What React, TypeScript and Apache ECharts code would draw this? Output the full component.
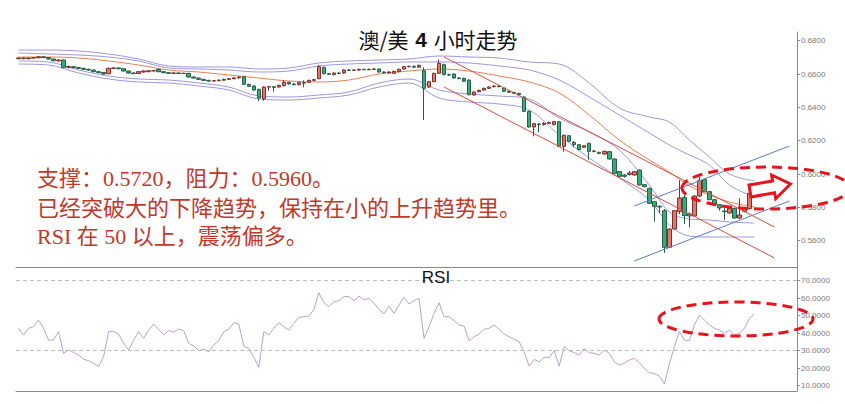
import React, { useEffect, useRef } from "react";
import * as echarts from "echarts";

// ---------- data ----------
const SLOTS = 156; // candle slots across the plot (last ones empty)
const categories: string[] = Array.from({ length: SLOTS }, (_, i) => String(i + 1));

// [open, close, low, high]
const ohlc: number[][] = [
  [0.6692, 0.6696, 0.6688, 0.67], [0.6696, 0.6692, 0.6688, 0.67], [0.6692, 0.6696, 0.6688, 0.67],
  [0.6696, 0.6698, 0.6692, 0.6702], [0.6698, 0.6703, 0.6694, 0.6706], [0.6703, 0.6699, 0.6695, 0.6706],
  [0.6699, 0.669, 0.6686, 0.6702], [0.669, 0.668, 0.6676, 0.6692], [0.6679, 0.6684, 0.6674, 0.6688],
  [0.6684, 0.664, 0.6634, 0.6688], [0.664, 0.6644, 0.6634, 0.665], [0.6644, 0.6639, 0.6634, 0.6648],
  [0.6639, 0.6634, 0.663, 0.6642], [0.6634, 0.6628, 0.6624, 0.6637], [0.6628, 0.6624, 0.662, 0.6632],
  [0.6624, 0.6614, 0.661, 0.6627], [0.6614, 0.6609, 0.6604, 0.6618], [0.6609, 0.66, 0.6596, 0.6612],
  [0.6602, 0.6634, 0.6598, 0.6638], [0.6634, 0.6636, 0.663, 0.664], [0.6636, 0.6632, 0.6628, 0.664],
  [0.6632, 0.6618, 0.6614, 0.6634], [0.6618, 0.6606, 0.6602, 0.662], [0.6606, 0.6603, 0.6598, 0.661],
  [0.6603, 0.6614, 0.66, 0.6617], [0.6612, 0.6618, 0.6608, 0.6622], [0.6614, 0.6619, 0.661, 0.6622],
  [0.6619, 0.662, 0.6614, 0.6624], [0.6628, 0.6614, 0.661, 0.6632], [0.6614, 0.6608, 0.6604, 0.6616],
  [0.6608, 0.6604, 0.66, 0.661], [0.6604, 0.6606, 0.66, 0.661], [0.6606, 0.6603, 0.66, 0.661],
  [0.6603, 0.6604, 0.66, 0.6608], [0.6604, 0.6582, 0.6578, 0.6606], [0.6582, 0.6576, 0.6572, 0.6585],
  [0.6576, 0.6568, 0.6564, 0.6578], [0.6568, 0.6562, 0.6558, 0.6571], [0.6562, 0.6558, 0.6554, 0.6565],
  [0.6558, 0.656, 0.6554, 0.6564], [0.656, 0.6563, 0.6556, 0.6567], [0.6563, 0.6568, 0.656, 0.6572],
  [0.6568, 0.6572, 0.6564, 0.6576], [0.6572, 0.6577, 0.6568, 0.658], [0.6577, 0.6582, 0.6572, 0.6586],
  [0.6584, 0.6538, 0.6534, 0.6588], [0.6538, 0.6526, 0.6522, 0.6541], [0.6528, 0.6504, 0.65, 0.6532],
  [0.6508, 0.6456, 0.6438, 0.6512], [0.6452, 0.6522, 0.644, 0.6526], [0.6522, 0.6524, 0.65, 0.6528],
  [0.6524, 0.652, 0.6494, 0.6528], [0.6522, 0.6532, 0.6518, 0.6536], [0.653, 0.655, 0.6526, 0.6562],
  [0.655, 0.654, 0.6536, 0.6554], [0.654, 0.6536, 0.6532, 0.6544], [0.6536, 0.6548, 0.6532, 0.6552],
  [0.6548, 0.6545, 0.652, 0.6562], [0.655, 0.6562, 0.6546, 0.6566], [0.6562, 0.6566, 0.6558, 0.657],
  [0.6572, 0.6644, 0.6568, 0.6654], [0.664, 0.6602, 0.6598, 0.6644], [0.6602, 0.6598, 0.6594, 0.6606],
  [0.6596, 0.6606, 0.6592, 0.661], [0.6606, 0.6604, 0.6598, 0.661], [0.6606, 0.6624, 0.6602, 0.6628],
  [0.6624, 0.6622, 0.6618, 0.663], [0.6622, 0.6624, 0.6618, 0.6628], [0.6624, 0.6628, 0.662, 0.6632],
  [0.6628, 0.6626, 0.6622, 0.6632], [0.6626, 0.6628, 0.6622, 0.6632], [0.6628, 0.663, 0.6624, 0.6634],
  [0.663, 0.6612, 0.6608, 0.6633], [0.6612, 0.6608, 0.6604, 0.6616], [0.6606, 0.6612, 0.6602, 0.6616],
  [0.6604, 0.6616, 0.66, 0.662], [0.6614, 0.6628, 0.661, 0.6632], [0.663, 0.6644, 0.6626, 0.6648],
  [0.6644, 0.6646, 0.664, 0.665], [0.6646, 0.6641, 0.6636, 0.665], [0.6641, 0.6652, 0.6636, 0.6656],
  [0.662, 0.6514, 0.6324, 0.664], [0.6522, 0.6554, 0.6516, 0.6558], [0.6554, 0.6604, 0.655, 0.6608],
  [0.6604, 0.6664, 0.66, 0.6686], [0.6656, 0.6596, 0.6592, 0.6662], [0.6596, 0.6594, 0.6588, 0.6602],
  [0.66, 0.6576, 0.6572, 0.6604], [0.6576, 0.6574, 0.6568, 0.658], [0.6574, 0.6556, 0.6552, 0.6578],
  [0.6564, 0.6476, 0.6472, 0.6568], [0.6474, 0.6492, 0.647, 0.6496], [0.6494, 0.6502, 0.649, 0.6506],
  [0.6504, 0.6514, 0.65, 0.6518], [0.6514, 0.6522, 0.651, 0.6526], [0.6524, 0.6528, 0.652, 0.6532],
  [0.6528, 0.6524, 0.652, 0.6532], [0.6516, 0.6496, 0.6492, 0.652], [0.6496, 0.649, 0.6486, 0.65],
  [0.649, 0.6484, 0.648, 0.6494], [0.6484, 0.6476, 0.6472, 0.6488], [0.6462, 0.6376, 0.6372, 0.6466],
  [0.6376, 0.6282, 0.6278, 0.638], [0.6282, 0.6302, 0.6226, 0.6306], [0.63, 0.6296, 0.625, 0.6306],
  [0.6298, 0.6304, 0.629, 0.6312], [0.6304, 0.6308, 0.63, 0.6316], [0.6296, 0.6314, 0.6292, 0.6318],
  [0.6314, 0.6166, 0.6162, 0.6318], [0.6166, 0.6232, 0.6134, 0.6236], [0.623, 0.6196, 0.6192, 0.6234],
  [0.619, 0.6176, 0.616, 0.6198], [0.6176, 0.6146, 0.6142, 0.618], [0.616, 0.617, 0.6156, 0.6174],
  [0.6184, 0.6136, 0.6086, 0.6188], [0.6136, 0.6138, 0.613, 0.6144], [0.613, 0.6124, 0.6118, 0.6134],
  [0.612, 0.6136, 0.6114, 0.614], [0.6134, 0.609, 0.6086, 0.6138], [0.609, 0.6004, 0.6, 0.6094],
  [0.6014, 0.5986, 0.5982, 0.6018], [0.5994, 0.5986, 0.5978, 0.6], [0.5998, 0.6006, 0.599, 0.6018],
  [0.5994, 0.6014, 0.599, 0.6018], [0.6024, 0.5934, 0.593, 0.6028], [0.5936, 0.5924, 0.592, 0.594],
  [0.5914, 0.5824, 0.582, 0.5918], [0.5834, 0.5806, 0.5714, 0.5838], [0.5806, 0.5802, 0.5766, 0.5812],
  [0.578, 0.556, 0.5526, 0.579], [0.556, 0.567, 0.5556, 0.5674], [0.567, 0.578, 0.5666, 0.5784],
  [0.5774, 0.5856, 0.576, 0.5962], [0.586, 0.575, 0.57, 0.5872], [0.576, 0.5748, 0.568, 0.577],
  [0.5748, 0.5868, 0.5744, 0.5872], [0.5868, 0.596, 0.5862, 0.5982], [0.5966, 0.5894, 0.589, 0.597],
  [0.5894, 0.5846, 0.5842, 0.5898], [0.5846, 0.5816, 0.5812, 0.585], [0.5816, 0.5796, 0.578, 0.582],
  [0.5778, 0.5774, 0.5724, 0.58], [0.5766, 0.5794, 0.5762, 0.5798], [0.5794, 0.5736, 0.5732, 0.5798],
  [0.5736, 0.5754, 0.573, 0.5854], [0.5776, 0.5792, 0.577, 0.5796], [0.5792, 0.5884, 0.5788, 0.5888],
  [0.589, 0.5894, 0.5886, 0.5898],
];

const rsi: number[] = [
  42.8, 39.0, 42.8, 43.7, 47.5, 42.8, 36.1, 36.1, 40.9, 28.5,
  30.4, 28.9, 27.5, 25.1, 24.3, 22.8, 20.9, 26.6, 40.9, 40.9,
  39.5, 34.2, 30.4, 36.1, 40.9, 37.1, 41.8, 45.2, 42.2, 39.0,
  41.4, 40.7, 42.4, 41.4, 34.2, 32.7, 30.0, 30.8, 29.4, 33.2,
  35.7, 40.9, 42.2, 46.0, 45.2, 32.7, 31.3, 26.2, 20.5, 40.9,
  39.0, 42.8, 46.0, 43.7, 41.8, 45.6, 49.1, 49.4, 49.8, 53.6,
  63.1, 57.4, 55.1, 58.0, 58.6, 60.9, 60.9, 58.6, 61.2, 59.0,
  59.9, 57.1, 53.6, 51.0, 55.5, 51.3, 56.1, 60.5, 56.7, 58.6,
  59.9, 37.1, 43.7, 51.3, 57.4, 49.4, 49.4, 47.1, 44.7, 44.1,
  35.7, 38.0, 39.5, 42.2, 42.8, 44.7, 42.2, 39.5, 38.0, 36.5,
  35.1, 29.4, 21.2, 25.0, 23.7, 26.2, 26.2, 30.0, 21.2, 32.3,
  30.0, 28.9, 27.5, 31.3, 28.9, 28.5, 27.5, 30.4, 28.5, 23.7,
  21.8, 22.8, 24.7, 25.6, 23.2, 19.9, 17.4, 17.0, 15.5, 11.0,
  22.4, 32.3, 40.9, 36.1, 35.7, 44.7, 50.4, 47.5, 44.7, 42.8,
  41.8, 39.9, 41.8, 39.0, 39.9, 42.8, 48.5, 51.0,
];

// Bollinger-type envelopes: [candle index, price]
const bandUpperOuter: number[][] = [
  [0, 0.6744], [6, 0.6744], [12, 0.6738], [18, 0.672], [24, 0.669], [30, 0.6648], [36, 0.6642],
  [42, 0.6642], [48, 0.663], [54, 0.6636], [60, 0.6666], [66, 0.6678], [72, 0.6684], [78, 0.669],
  [84, 0.6708], [90, 0.6702], [96, 0.6696], [102, 0.6672], [108, 0.666], [114, 0.6546], [120, 0.6396],
  [126, 0.6342], [130, 0.6312], [134, 0.6204], [138, 0.6102], [142, 0.6], [147, 0.5958],
];
const bandUpperInner: number[][] = [
  [0, 0.6726], [6, 0.672], [12, 0.6714], [18, 0.6702], [24, 0.6678], [30, 0.6636], [36, 0.663],
  [42, 0.6624], [48, 0.6612], [54, 0.6618], [60, 0.6648], [66, 0.666], [72, 0.6666], [78, 0.6672],
  [84, 0.6672], [90, 0.6666], [96, 0.6648], [102, 0.6624], [108, 0.6564], [114, 0.6462], [120, 0.6354],
  [126, 0.6246], [130, 0.6174], [134, 0.6114], [138, 0.6054], [142, 0.5934], [147, 0.5862],
];
const bandMiddle: number[][] = [
  [0, 0.6702], [6, 0.6702], [12, 0.6696], [18, 0.6678], [24, 0.6654], [30, 0.6624], [36, 0.6612],
  [42, 0.6594], [48, 0.6576], [54, 0.6558], [60, 0.6552], [66, 0.6564], [72, 0.66], [78, 0.6618],
  [84, 0.663], [90, 0.6618], [96, 0.6588], [102, 0.6552], [108, 0.6486], [114, 0.6354], [120, 0.6204],
  [126, 0.6084], [130, 0.6012], [134, 0.5928], [138, 0.5874], [142, 0.5832], [147, 0.5802],
];
const bandLowerInner: number[][] = [
  [0, 0.6678], [6, 0.6672], [12, 0.6624], [18, 0.6588], [24, 0.657], [30, 0.6564], [36, 0.6546],
  [42, 0.6522], [48, 0.6468], [54, 0.6462], [60, 0.6474], [66, 0.6492], [72, 0.6546], [78, 0.657],
  [84, 0.6504], [90, 0.648], [96, 0.6468], [102, 0.645], [108, 0.6336], [114, 0.6252], [120, 0.6144],
  [126, 0.5934], [130, 0.5772], [134, 0.573], [138, 0.5724], [142, 0.5712], [147, 0.5706],
];
const bandLowerOuter: number[][] = [
  [0, 0.666], [6, 0.6654], [12, 0.6606], [18, 0.657], [24, 0.6552], [30, 0.6546], [36, 0.6528],
  [42, 0.6504], [48, 0.645], [54, 0.6444], [60, 0.6456], [66, 0.6474], [72, 0.6522], [78, 0.6546],
  [84, 0.6456], [90, 0.6432], [96, 0.642], [102, 0.6384], [108, 0.6234], [114, 0.6096], [120, 0.5976],
  [126, 0.5844], [130, 0.5694], [134, 0.5628], [138, 0.5622], [142, 0.5622], [147, 0.5622],
];

// hand-drawn trend lines: [candle index, price]
const downTrendUpper: number[][] = [[85, 0.6702], [151, 0.5682]];
const downTrendLower: number[][] = [[85, 0.6522], [151, 0.5496]];
const upTrendUpper: number[][] = [[123, 0.5808], [154, 0.6168]];
const upTrendLower: number[][] = [[123, 0.5478], [154, 0.5838]];

const PRICE_TICKS = [0.56, 0.58, 0.6, 0.62, 0.64, 0.66, 0.68];
const RSI_TICKS = [10, 20, 30, 40, 50, 60, 70];
const RSI_LEVELS = [70, 30];

const TITLE = "澳/美";
const TITLE_NUM = "4";
const TITLE_TAIL = "小时走势";
const NOTES = [
  "支撑：0.5720，阻力：0.5960。",
  "已经突破大的下降趋势，保持在小的上升趋势里。",
  "RSI 在 50 以上，震荡偏多。",
];

// ---------- component ----------
const AXIS_GREY = "#8a8a8a";
const BAND_COLOR = "#9d97de";
const LABEL_FONT = "'Liberation Sans', Arial, sans-serif";

export default function App() {
  const ref = useRef<HTMLDivElement>(null);

  useEffect(() => {
    if (!ref.current) return;
    const chart = echarts.init(ref.current, undefined, { renderer: "svg" });

    const bandSeries = (data: number[][], color: string) => ({
      type: "line",
      xAxisIndex: 1,
      yAxisIndex: 0,
      data,
      symbol: "none",
      smooth: 0.35,
      silent: true,
      lineStyle: { color, width: 1 },
      z: 2,
    });
    const trendSeries = (data: number[][], color: string) => ({
      type: "line",
      xAxisIndex: 1,
      yAxisIndex: 0,
      data,
      symbol: "none",
      silent: true,
      lineStyle: { color, width: 1 },
      z: 4,
    });

    const yLabel = {
      color: "#7a7a7a",
      fontSize: 8,
      fontFamily: LABEL_FONT,
      margin: 4,
    };

    const option: any = {
      animation: false,
      backgroundColor: "#ffffff",
      grid: [
        { left: 16, right: 48, top: 32, height: 235 },
        { left: 16, right: 48, top: 267, height: 124 },
      ],
      xAxis: [
        {
          type: "category",
          gridIndex: 0,
          data: categories,
          boundaryGap: true,
          axisLine: { onZero: false, lineStyle: { color: AXIS_GREY } },
          axisTick: { show: false },
          axisLabel: { show: false },
          splitLine: { show: false },
        },
        { type: "value", gridIndex: 0, min: -0.5, max: SLOTS - 0.5, show: false },
        {
          type: "category",
          gridIndex: 1,
          data: categories,
          boundaryGap: true,
          axisLine: { onZero: false, lineStyle: { color: AXIS_GREY } },
          axisTick: { show: false },
          axisLabel: { show: false },
          splitLine: { show: false },
        },
      ],
      yAxis: [
        {
          type: "value",
          gridIndex: 0,
          position: "right",
          min: 0.5442,
          max: 0.6852,
          axisLine: { show: true, onZero: false, lineStyle: { color: AXIS_GREY } },
          axisTick: { show: true, length: 3, customValues: PRICE_TICKS, lineStyle: { color: AXIS_GREY } },
          axisLabel: { ...yLabel, customValues: PRICE_TICKS, formatter: (v: number) => v.toFixed(4) },
          splitLine: { show: false },
        },
        {
          type: "value",
          gridIndex: 1,
          position: "right",
          min: 6.97,
          max: 77.83,
          axisLine: { show: true, onZero: false, lineStyle: { color: AXIS_GREY } },
          axisTick: { show: true, length: 3, customValues: RSI_TICKS, lineStyle: { color: AXIS_GREY } },
          axisLabel: { ...yLabel, customValues: RSI_TICKS, formatter: (v: number) => v.toFixed(4) },
          splitLine: { show: false },
        },
      ],
      series: [
        bandSeries(bandUpperOuter, BAND_COLOR),
        bandSeries(bandUpperInner, BAND_COLOR),
        bandSeries(bandLowerInner, BAND_COLOR),
        bandSeries(bandLowerOuter, BAND_COLOR),
        bandSeries(bandMiddle, "#e8804f"),
        {
          type: "candlestick",
          xAxisIndex: 0,
          yAxisIndex: 0,
          data: ohlc,
          barWidth: 4,
          z: 3,
          itemStyle: {
            color: "#e2766d",
            color0: "#2fb07a",
            borderColor: "#7d2f2a",
            borderColor0: "#2c5e47",
            borderWidth: 1,
          },
        },
        trendSeries(downTrendUpper, "#d4503f"),
        trendSeries(downTrendLower, "#d4503f"),
        trendSeries(upTrendUpper, "#5a7cc4"),
        trendSeries(upTrendLower, "#5a7cc4"),
        {
          type: "line",
          xAxisIndex: 2,
          yAxisIndex: 1,
          data: rsi,
          symbol: "none",
          lineStyle: { color: "#b8a2c6", width: 1 },
          markLine: {
            silent: true,
            symbol: ["none", "none"],
            label: { show: false },
            lineStyle: { color: "#bdbdbd", type: [4, 3], width: 1 },
            data: RSI_LEVELS.map((v) => ({ yAxis: v })),
          },
        },
      ],
      graphic: [
        {
          type: "text",
          x: 438,
          y: 39,
          z: 100,
          style: {
            text: `{a|${TITLE}}  {b|${TITLE_NUM}}  {a|${TITLE_TAIL}}`,
            align: "center",
            verticalAlign: "middle",
            rich: {
              a: { fontSize: 21, fontFamily: "'Noto Sans CJK SC'", fill: "#111" },
              b: { fontSize: 21, fontFamily: LABEL_FONT, fontWeight: "bold", fill: "#111" },
            },
          },
        },
        {
          type: "text",
          x: 436,
          y: 277,
          z: 100,
          style: {
            text: "RSI",
            align: "center",
            verticalAlign: "middle",
            font: `17px ${LABEL_FONT}`,
            fill: "#111",
          },
        },
        ...NOTES.map((t, k) => ({
          type: "text",
          x: 37,
          y: [178, 208, 236][k],
          z: 100,
          style: {
            text: t,
            align: "left",
            verticalAlign: "middle",
            font: "22px 'Liberation Serif', 'Noto Sans CJK SC'",
            fill: "#c0392b",
          },
        })),
        {
          type: "ellipse",
          z: 100,
          shape: { cx: 766, cy: 188, rx: 84, ry: 21 },
          style: { fill: "none", stroke: "#e8141b", lineWidth: 3, lineDash: [10, 6] },
        },
        {
          type: "ellipse",
          z: 100,
          shape: { cx: 736, cy: 319, rx: 77, ry: 17 },
          style: { fill: "none", stroke: "#e8141b", lineWidth: 3, lineDash: [10, 6] },
        },
        {
          type: "polygon",
          z: 101,
          shape: {
            points: [
              [749, 185], [772.6, 181], [771.6, 175], [790.4, 184],
              [775.7, 198.7], [774.6, 192.8], [751, 196.9],
            ],
          },
          style: { fill: "#ffffff", stroke: "#e8141b", lineWidth: 3 },
        },
      ],
    };

    chart.setOption(option);
    return () => chart.dispose();
  }, []);

  return (
    <div
      ref={ref}
      style={{ position: "fixed", left: 0, top: 0, width: 845, height: 404, background: "#fff" }}
    />
  );
}
